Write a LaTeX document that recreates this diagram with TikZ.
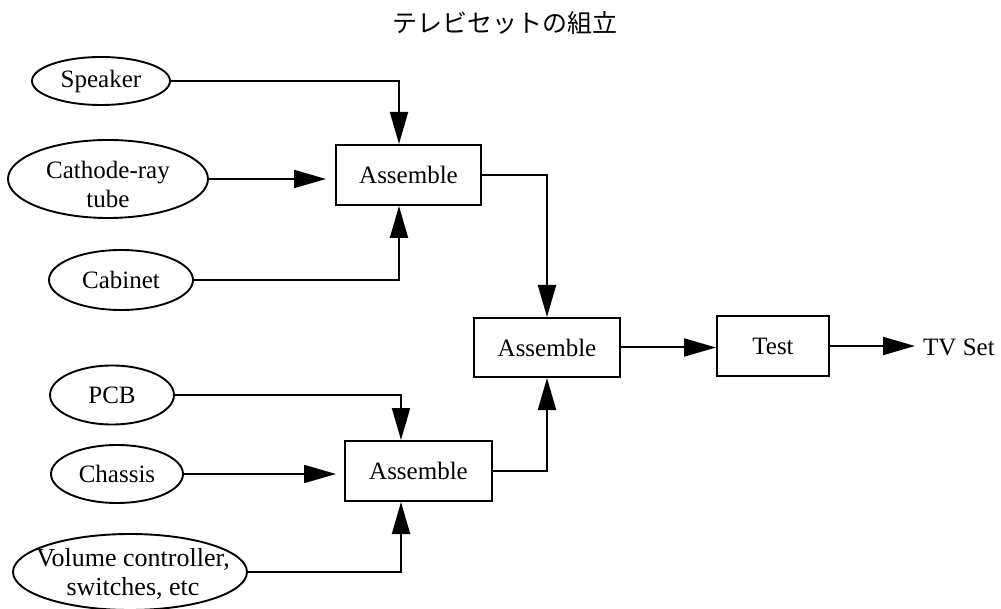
\documentclass[tikz,border=0pt]{standalone}
\usepackage{fontspec}
\setmainfont{Liberation Serif}
\newfontfamily\jpfont{Noto Sans CJK JP}
\usetikzlibrary{arrows.meta,shapes.geometric}

\begin{document}
\begin{tikzpicture}[x=1pt,y=-1pt,
  every node/.style={font=\fontsize{25}{29}\selectfont},
  part/.style={ellipse,draw,line width=1.9pt,inner sep=0pt},
  parttext/.style={align=center,inner sep=0pt},
  procbox/.style={rectangle,draw,line width=2pt,inner sep=0pt},
  flow/.style={line width=2pt,-{Triangle[length=32pt,width=18pt]}},
]
\useasboundingbox (0,0) rectangle (1001,609);

% title
\node[font=\fontsize{25}{25}\selectfont\jpfont] (title) at (505,23) {テレビセットの組立};

% parts
\node[part,minimum width=138pt,minimum height=48pt] (spk) at (101,81) {};
\node[parttext] (spkT) at (spk) {Speaker};
\node[part,minimum width=200pt,minimum height=78pt] (crt) at (108,179) {};
\node[parttext] (crtT) at (108,184) {Cathode-ray\\tube};
\node[part,minimum width=144pt,minimum height=60pt] (cab) at (121,280) {};
\node[parttext] (cabT) at (cab) {Cabinet};
\node[part,minimum width=124pt,minimum height=59pt] (pcb) at (112,395) {};
\node[parttext] (pcbT) at (pcb) {PCB};
\node[part,minimum width=132pt,minimum height=58pt] (chs) at (117,474) {};
\node[parttext] (chsT) at (chs) {Chassis};
\node[part,minimum width=234pt,minimum height=76pt] (vol) at (130,572) {};
\node[parttext,font=\fontsize{26}{29}\selectfont] (volT) at (133,574) {Volume controller,\\switches, etc};

% process steps
\node[procbox,minimum width=145pt,minimum height=60pt] (top) at (408.5,175) {Assemble};
\node[procbox,minimum width=146pt,minimum height=59pt] (mid) at (547,347.5) {Assemble};
\node[procbox,minimum width=147pt,minimum height=60pt] (bot) at (418.5,471) {Assemble};
\node[procbox,minimum width=112pt,minimum height=60pt] (test) at (773,346) {Test};
\node[anchor=west,inner sep=0pt] (tv) at (923,347) {TV Set};

% flows
\draw[flow] (spk.east) -| ([xshift=-9.5pt]top.north);
\draw[flow,shorten >=9pt] (crt.east) -- (top.west |- crt.east);
\draw[flow] (cab.east) -| ([xshift=-9.5pt]top.south);
\draw[flow] (top.east) -| (mid.north);
\draw[flow] (pcb.east) -| ([xshift=-17.5pt]bot.north);
\draw[flow,shorten >=8pt] (chs.east) -- (bot.west |- chs.east);
\draw[flow] (vol.east) -| ([xshift=-17.5pt]bot.south);
\draw[flow] (bot.east) -| (mid.south);
\draw[flow] (mid.east) -- (test.west |- mid.east);
\draw[flow,shorten >=8pt] (test.east) -- (tv.west |- test.east);
\end{tikzpicture}
\end{document}
